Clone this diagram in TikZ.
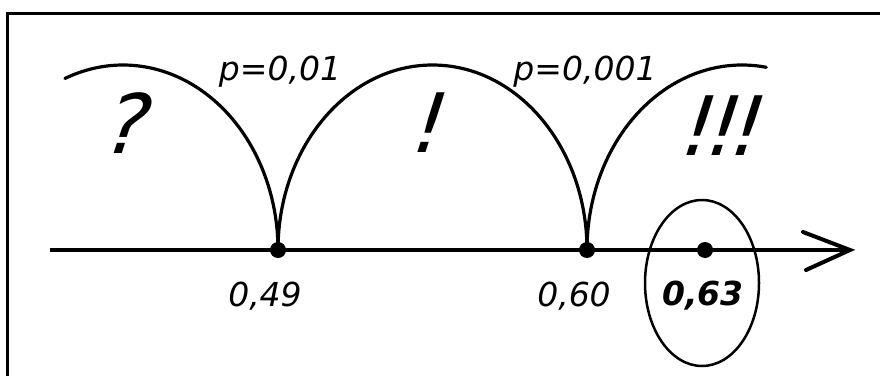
\documentclass[tikz,border=0pt]{standalone}
\usepackage{fontspec}
\setmainfont{DejaVu Sans}
\begin{document}
\begin{tikzpicture}[x=1pt,y=1pt,
  lab/.style={font=\fontsize{33}{36}\selectfont\itshape, inner sep=0pt},
  big/.style={font=\fontsize{82}{90}\selectfont, inner sep=0pt, xslant=0.32},
  dotnode/.style={circle, fill=black, inner sep=0pt, minimum size=16pt},
  arcline/.style={line width=3.2pt, line cap=round},
  axisline/.style={line width=4.5pt}]
\useasboundingbox (0,0) rectangle (880,376);
% frame
\draw[line width=3pt] (7.5,0) -- (7.5,362.5) -- (880,362.5);
% axis
\coordinate (a0) at (50,126);
\coordinate (tip) at (850,126);
\draw[axisline] (a0) -- (tip);
\coordinate (armup) at (803,144);
\coordinate (armdn) at (806,106);
\draw[line width=4pt, line cap=round, line join=miter] (armup) -- (tip) -- (armdn);
% points
\node[dotnode] (d1) at (278,126) {};
\node[dotnode] (d2) at (587,126) {};
\node[dotnode] (d3) at (705,126) {};
% arcs
\draw[arcline] (d1.center) arc[start angle=0, end angle=112, x radius=155, y radius=185];
\draw[arcline] (d1.center) arc[start angle=180, end angle=0, x radius=154.5, y radius=185];
\draw[arcline] (d2.center) arc[start angle=180, end angle=81, x radius=155, y radius=185];
% ellipse
\draw[line width=2.5pt] (702,93) ellipse[x radius=57, y radius=83];
% labels
\node[lab, anchor=base] (p1) at (280,296) {p=0,01};
\node[lab, anchor=base] (p2) at (585,296) {p=0,001};
\node[lab] (l1) at (265,80) {0,49};
\node[lab] (l2) at (574,80) {0,60};
\node[lab, font=\fontsize{33}{36}\selectfont\itshape\bfseries] (l3) at (703,80) {0,63};
\node[big] (q) at (130,253) {?};
\node[big] (e1) at (431,253) {!};
\node[big] (e3) at (725,250) {!\kern-8pt!\kern-8pt!};
\end{tikzpicture}
\end{document}
